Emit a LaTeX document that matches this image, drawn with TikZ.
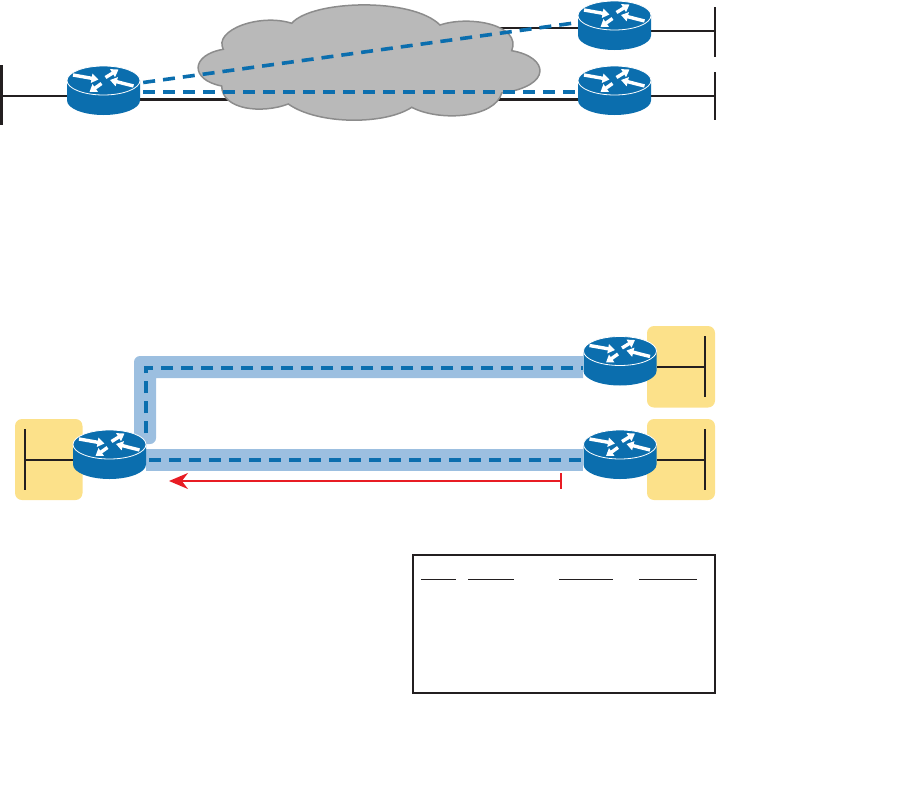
\documentclass[tikz,border=0pt]{standalone}
\usetikzlibrary{arrows.meta}
\definecolor{routerblue}{HTML}{0B6EAE}
\definecolor{bandblue}{HTML}{9CBFE0}
\definecolor{lanyellow}{HTML}{FCE18A}
\definecolor{cloudgray}{HTML}{B9B9B9}
\definecolor{cloudedge}{HTML}{8C8C8C}
\definecolor{inkblack}{HTML}{231F20}
\definecolor{pathred}{HTML}{E81C24}
\tikzset{
    wire/.style={inkblack, line width=2.2pt},
    tunnel/.style={routerblue, line width=3.6pt, dash pattern=on 12pt off 8pt},
    lanbox/.style={fill=lanyellow, rounded corners=7pt},
    routerspot/.style={inner sep=0pt, minimum width=73pt, minimum height=49pt},
    routerarrow/.style={white, line width=3.4pt, -{Triangle[length=7pt,width=9pt]}},
    router/.pic={
        % Body
        \fill[routerblue] (-36.5,-10) -- (-36.5,10)
            .. controls (-36.5,18) and (-20,24.5) .. (0,24.5)
            .. controls (20,24.5) and (36.5,18) .. (36.5,10) -- (36.5,-10) -- cycle;
        % Top
        \draw[white, line width=0.8pt, fill=routerblue] (0,-10) ellipse [x radius=36.5, y radius=14.5];
        % Arrows
        \draw[routerarrow] (-30.5,-15.5) -- (-5,-11);
        \draw[routerarrow] (2,-13) -- (15,-21);
        \draw[routerarrow] (30,-4.5) -- (6.5,-10.5);
        \draw[routerarrow] (-2,-7) -- (-14,1.5);
    }
}
\begin{document}
\begin{tikzpicture}[x=1pt, y=-1pt]
    \useasboundingbox (0,0) rectangle (913,787);

    % Router spots
    \node[routerspot] (wanLeft) at (103.5,90.5) {};
    \node[routerspot] (wanTop) at (614.5,25.5) {};
    \node[routerspot] (wanBottom) at (614.5,90.5) {};
    \node[routerspot] (siteLeft) at (109.5,454.5) {};
    \node[routerspot] (siteTop) at (620,361) {};
    \node[routerspot] (siteBottom) at (620,454.5) {};

    % WAN wires under the cloud
    \draw[wire] ([yshift=-9pt]wanLeft.east) -- ([yshift=-9pt]wanBottom.west);
    \draw[wire] ([yshift=-2.5pt]wanTop.west) -- ++(-90,0);

    % Cloud
    \draw[fill=cloudgray, draw=cloudedge, line width=1.5pt]
        (223.3,49.3) .. controls (213,30) and (260,13) .. (291.7,23.3)
        .. controls (312,0) and (412,-3) .. (440,25)
        .. controls (470,15) and (522,25) .. (511.7,50.7)
        .. controls (549,57) and (553,86) .. (501.7,93)
        .. controls (495,118) and (440,122) .. (411.7,107.3)
        .. controls (385,125) and (318,125) .. (288.3,104)
        .. controls (262,114) and (222,110) .. (221.7,86)
        .. controls (190,80) and (190,55) .. (223.3,49.3) -- cycle;

    % LAN wires, upper part
    \coordinate (lanLeftA) at (1.5,65);
    \coordinate (lanLeftB) at (1.5,125);
    \coordinate (lanTopA) at (715,7);
    \coordinate (lanTopB) at (715,57);
    \coordinate (lanBottomA) at (715,72);
    \coordinate (lanBottomB) at (715,120);
    \draw[wire] (lanLeftA) -- (lanLeftB);
    \draw[wire] ([yshift=-5.5pt]wanLeft.west) -- ++(-66,0);
    \draw[wire] (lanTopA) -- (lanTopB);
    \draw[wire] ([yshift=-5.5pt]wanTop.east) -- ++(64,0);
    \draw[wire] (lanBottomA) -- (lanBottomB);
    \draw[wire] ([yshift=-5.5pt]wanBottom.east) -- ++(64,0);

    % Tunnels, upper part
    \draw[tunnel] ([xshift=3pt,yshift=8pt]wanLeft.east) -- ([yshift=3pt]wanTop.west);
    \draw[tunnel] ([xshift=3pt,yshift=-1.5pt]wanLeft.east) -- ([yshift=-1.5pt]wanBottom.west);

    \pic at (wanLeft) {router};
    \pic at (wanTop) {router};
    \pic at (wanBottom) {router};

    % LAN boxes
    \fill[lanbox] (15,419) rectangle (82.5,500);
    \fill[lanbox] (647,326) rectangle (715,407.5);
    \fill[lanbox] (647,419) rectangle (715,500);

    % Bands
    \fill[bandblue, rounded corners=6pt] (583,356) -- (134,356) -- (134,444) -- (156,444)
        [sharp corners] -- (156,378) -- (583,378) -- cycle;
    \fill[bandblue] (146,449) rectangle (583,471);

    % Tunnels, lower part
    \draw[tunnel] (146,433) -- (146,368) -- ([yshift=-7pt]siteTop.west);
    \draw[tunnel] ([xshift=3pt,yshift=-5.5pt]siteLeft.east) -- ([yshift=-5.5pt]siteBottom.west);

    % LAN wires, lower part
    \draw[wire] (25,429) -- (25,490);
    \draw[wire] ([yshift=-5.5pt]siteLeft.west) -- ++(-48,0);
    \foreach \y/\name in {367/siteTop, 460/siteBottom} {
        \draw[wire] (705,\y-31) -- (705,\y+30);
        \draw[wire] (705,\y) -- (\name.east |- 0,\y);
    }

    \pic at (siteLeft) {router};
    \pic at (siteTop) {router};
    \pic at (siteBottom) {router};

    % Red path
    \coordinate (pathStart) at (561.5,481);
    \coordinate (pathEnd) at (169,481);
    \draw[pathred, line width=1.7pt, {Bar[width=16pt]}-{Stealth[length=19pt,width=16pt]}] (pathStart) -- (pathEnd);

    % Table
    \node[draw=inkblack, line width=2pt, inner sep=0pt, minimum width=302pt, minimum height=137.5pt] (tableBox) at (564,624) {};
    \foreach \xa/\xb in {421/456, 468/514, 559/612.7, 639/696.7} {
        \draw[inkblack, line width=1pt] (\xa,579) -- (\xb,579);
    }
\end{tikzpicture}
\end{document}
